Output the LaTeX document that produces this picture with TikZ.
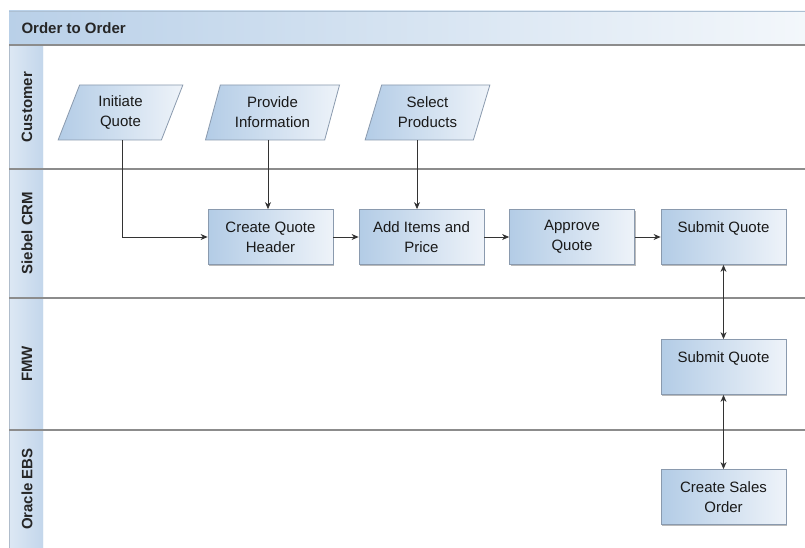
\documentclass[tikz,border=0pt]{standalone}
\usepackage{fontspec}
\setmainfont{Liberation Sans}
\usetikzlibrary{shapes.geometric,arrows.meta,shadows}
\definecolor{boxL}{HTML}{B3CCE6}
\definecolor{boxR}{HTML}{EEF3F9}
\definecolor{boxB}{HTML}{8A9AAE}
\definecolor{titL}{HTML}{B9D0E8}
\definecolor{titR}{HTML}{F3F7FB}
\definecolor{laneL}{HTML}{DDE8F4}
\definecolor{laneR}{HTML}{C3D6EB}
\definecolor{sep}{HTML}{8C8C8C}
\definecolor{arr}{HTML}{333333}
\tikzset{
  txt/.style={font=\fontsize{15}{20}\selectfont, align=center, text=black!90},
  procbox/.style={txt, draw=boxB, line width=0.8pt, left color=boxL, right color=boxR,
    minimum width=125pt, minimum height=55pt, inner sep=0pt,
    drop shadow={shadow xshift=1pt, shadow yshift=-1.2pt, fill=black!45, opacity=0.6}},
  databox/.style={txt, shape=trapezium, trapezium left angle=71, trapezium right angle=109,
    trapezium stretches=true, draw=boxB, line width=0.8pt, left color=boxL, right color=boxR,
    minimum width=125pt, minimum height=55pt, inner sep=0pt},
  conn/.style={arr, line width=0.8pt, -{Stealth[length=7pt,width=6pt]}},
  conn2/.style={arr, line width=0.8pt, {Stealth[length=7pt,width=6pt]}-{Stealth[length=7pt,width=6pt]}},
  lanetxt/.style={font=\fontsize{15}{18}\selectfont\bfseries, rotate=90, text=black!85},
  sepline/.style={sep, line width=1.5pt}
}
\begin{document}
\begin{tikzpicture}[x=1pt,y=-1pt]
\useasboundingbox (0,0) rectangle (805,548);
\fill[white] (0,0) rectangle (805,548);
% title bar
\shade[left color=titL, right color=titR] (9,11) rectangle (805,45);
\draw[titL!80!gray, line width=0.8pt] (9,11) -- (805,11);
\node[anchor=west, font=\fontsize{15}{18}\selectfont\bfseries, text=black!85] (title) at (18,28) {Order to Order};
% lane label column
\shade[left color=laneL, right color=laneR] (9,45) rectangle (43,548);
\draw[laneR!70!gray, line width=0.8pt] (9,45) -- (9,548);
\draw[white!80!laneR, line width=0.8pt] (43,45) -- (43,548);
% separators
\draw[sepline] (9,45) -- (805,45);
\draw[sepline] (9,169) -- (805,169);
\draw[sepline] (9,298) -- (805,298);
\draw[sepline] (9,430) -- (805,430);
% lane labels
\node[lanetxt] (l1) at (27,107) {Customer};
\node[lanetxt] (l2) at (27,233) {Siebel CRM};
\node[lanetxt] (l3) at (27,364) {FMW};
\node[lanetxt] (l4) at (27,489) {Oracle EBS};
% customer lane
\node[databox] (iq) at (120.5,112.5) {Initiate\\Quote};
\node[databox, minimum width=135pt] (pi) at (272.5,112.5) {Provide\\Information};
\node[databox] (sp) at (427.5,112.5) {Select\\Products};
% siebel lane
\node[procbox] (cqh) at (270.5,237) {Create Quote\\Header};
\node[procbox] (aip) at (421.5,237) {Add Items and\\Price};
\node[procbox] (aq) at (572,237) {Approve\\Quote};
\node[procbox] (sq1) at (723.5,237) {Submit Quote\\\mbox{}};
% FMW lane
\node[procbox] (sq2) at (723.5,367) {Submit Quote\\\mbox{}};
% EBS lane
\node[procbox] (cso) at (723.5,497) {Create Sales\\Order};
% connectors
\draw[conn] (iq.south -| 122,0) |- (cqh.west);
\draw[conn] (pi.south -| 268,0) -- (cqh.north -| 268,0);
\draw[conn] (sp.south -| 417,0) -- (aip.north -| 417,0);
\draw[conn] (cqh) -- (aip);
\draw[conn] (aip) -- (aq);
\draw[conn] (aq) -- (sq1);
\draw[conn2] (sq1) -- (sq2);
\draw[conn2] (sq2) -- (cso);
\end{tikzpicture}
\end{document}
